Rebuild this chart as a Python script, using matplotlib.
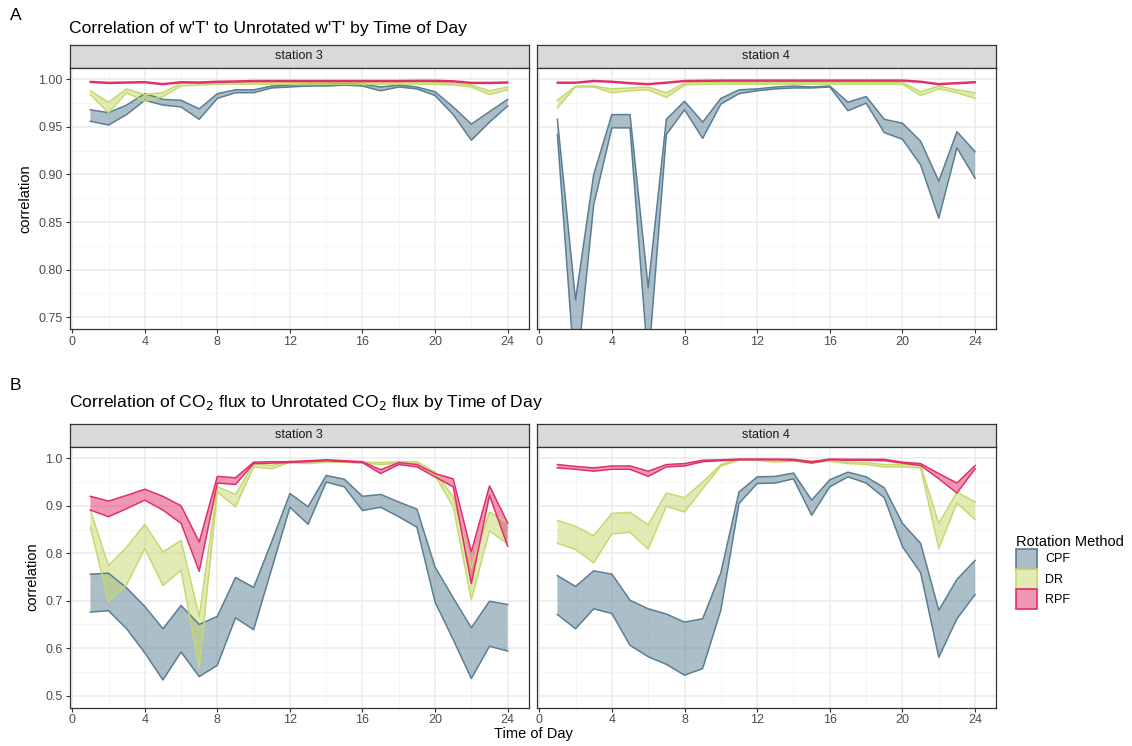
import matplotlib
matplotlib.use("Agg")
import matplotlib.pyplot as plt
from matplotlib.patches import Patch

plt.rcParams['font.family'] = ['Liberation Sans', 'DejaVu Sans']

hours = list(range(1, 25))
methods = ["CPF", "DR", "RPF"]
fills = {"CPF": "#5a7e93", "DR": "#c6d96e", "RPF": "#e0306c"}

# w'T' correlations, station 3 (lower / upper bounds of each ribbon)
wt_s3_cpf_lo = [0.956, 0.952, 0.963, 0.978, 0.973, 0.971, 0.958, 0.980, 0.986, 0.986, 0.991, 0.992,
                0.993, 0.993, 0.994, 0.993, 0.988, 0.992, 0.990, 0.983, 0.963, 0.936, 0.955, 0.972]
wt_s3_cpf_hi = [0.968, 0.965, 0.973, 0.985, 0.979, 0.978, 0.969, 0.985, 0.989, 0.989, 0.993, 0.994,
                0.995, 0.995, 0.996, 0.995, 0.992, 0.994, 0.992, 0.987, 0.971, 0.953, 0.966, 0.979]
wt_s3_dr_lo = [0.984, 0.965, 0.986, 0.977, 0.982, 0.993, 0.994, 0.995, 0.995, 0.995, 0.995, 0.995,
               0.995, 0.995, 0.995, 0.995, 0.995, 0.995, 0.995, 0.995, 0.994, 0.992, 0.984, 0.989]
wt_s3_dr_hi = [0.988, 0.976, 0.990, 0.984, 0.986, 0.996, 0.996, 0.996, 0.997, 0.997, 0.997, 0.997,
               0.997, 0.997, 0.997, 0.997, 0.997, 0.997, 0.997, 0.997, 0.996, 0.994, 0.988, 0.992]
wt_s3_rpf_lo = [0.9968, 0.9958, 0.9962, 0.9965, 0.9945, 0.9965, 0.9962, 0.9970, 0.9973, 0.9978, 0.9978, 0.9978,
                0.9978, 0.9978, 0.9978, 0.9978, 0.9978, 0.9978, 0.9980, 0.9980, 0.9975, 0.9958, 0.9958, 0.9962]
wt_s3_rpf_hi = [0.9978, 0.9968, 0.9972, 0.9975, 0.9955, 0.9975, 0.9972, 0.9980, 0.9983, 0.9988, 0.9988, 0.9988,
                0.9988, 0.9988, 0.9988, 0.9988, 0.9988, 0.9988, 0.9990, 0.9990, 0.9985, 0.9968, 0.9968, 0.9972]

# w'T' correlations, station 4
wt_s4_cpf_lo = [0.942, 0.680, 0.868, 0.949, 0.949, 0.700, 0.942, 0.968, 0.938, 0.974, 0.985, 0.988,
                0.990, 0.991, 0.991, 0.992, 0.967, 0.975, 0.944, 0.937, 0.910, 0.854, 0.928, 0.896]
wt_s4_cpf_hi = [0.958, 0.768, 0.900, 0.963, 0.963, 0.781, 0.958, 0.977, 0.955, 0.980, 0.989, 0.990,
                0.992, 0.993, 0.992, 0.993, 0.976, 0.982, 0.958, 0.954, 0.935, 0.893, 0.945, 0.924]
wt_s4_dr_lo = [0.970, 0.992, 0.992, 0.986, 0.988, 0.989, 0.981, 0.994, 0.995, 0.995, 0.995, 0.995,
               0.995, 0.995, 0.995, 0.995, 0.995, 0.995, 0.995, 0.995, 0.983, 0.990, 0.986, 0.980]
wt_s4_dr_hi = [0.978, 0.993, 0.993, 0.990, 0.991, 0.992, 0.986, 0.996, 0.997, 0.997, 0.997, 0.997,
               0.997, 0.997, 0.997, 0.997, 0.997, 0.997, 0.997, 0.997, 0.987, 0.993, 0.989, 0.986]
wt_s4_rpf_lo = [0.9960, 0.9960, 0.9978, 0.9970, 0.9955, 0.9945, 0.9960, 0.9978, 0.9980, 0.9982, 0.9982, 0.9982,
                0.9982, 0.9982, 0.9982, 0.9982, 0.9982, 0.9982, 0.9982, 0.9982, 0.9970, 0.9945, 0.9955, 0.9965]
wt_s4_rpf_hi = [0.9970, 0.9970, 0.9988, 0.9980, 0.9965, 0.9955, 0.9970, 0.9988, 0.9990, 0.9992, 0.9992, 0.9992,
                0.9992, 0.9992, 0.9992, 0.9992, 0.9992, 0.9992, 0.9992, 0.9992, 0.9980, 0.9955, 0.9965, 0.9975]

# CO2 flux correlations, station 3
co2_s3_cpf_lo = [0.676, 0.679, 0.641, 0.590, 0.533, 0.592, 0.540, 0.564, 0.664, 0.639, 0.768, 0.897,
                 0.861, 0.950, 0.940, 0.890, 0.897, 0.877, 0.855, 0.697, 0.618, 0.536, 0.604, 0.594]
co2_s3_cpf_hi = [0.756, 0.758, 0.727, 0.688, 0.641, 0.690, 0.650, 0.667, 0.749, 0.728, 0.825, 0.926,
                 0.898, 0.964, 0.956, 0.920, 0.924, 0.908, 0.893, 0.771, 0.706, 0.643, 0.699, 0.692]
co2_s3_dr_lo = [0.855, 0.699, 0.734, 0.810, 0.732, 0.764, 0.559, 0.929, 0.898, 0.982, 0.978, 0.992,
                0.989, 0.992, 0.992, 0.990, 0.987, 0.990, 0.989, 0.964, 0.898, 0.702, 0.847, 0.820]
co2_s3_dr_hi = [0.891, 0.774, 0.813, 0.861, 0.803, 0.827, 0.667, 0.940, 0.924, 0.989, 0.985, 0.994,
                0.993, 0.995, 0.995, 0.992, 0.991, 0.993, 0.993, 0.971, 0.919, 0.769, 0.887, 0.864]
co2_s3_rpf_lo = [0.891, 0.877, 0.894, 0.912, 0.891, 0.863, 0.762, 0.948, 0.945, 0.989, 0.990, 0.991,
                 0.993, 0.995, 0.993, 0.991, 0.968, 0.987, 0.982, 0.961, 0.940, 0.736, 0.922, 0.815]
co2_s3_rpf_hi = [0.920, 0.910, 0.922, 0.935, 0.920, 0.900, 0.824, 0.962, 0.959, 0.992, 0.993, 0.993,
                 0.995, 0.997, 0.995, 0.993, 0.976, 0.991, 0.987, 0.968, 0.957, 0.803, 0.942, 0.864]

# CO2 flux correlations, station 4
co2_s4_cpf_lo = [0.671, 0.641, 0.683, 0.673, 0.606, 0.582, 0.566, 0.543, 0.557, 0.680, 0.905, 0.947,
                 0.948, 0.957, 0.880, 0.940, 0.961, 0.948, 0.917, 0.814, 0.759, 0.581, 0.662, 0.713]
co2_s4_cpf_hi = [0.753, 0.730, 0.763, 0.756, 0.701, 0.683, 0.672, 0.655, 0.662, 0.759, 0.929, 0.961,
                 0.962, 0.969, 0.912, 0.955, 0.971, 0.961, 0.938, 0.863, 0.821, 0.680, 0.745, 0.785]
co2_s4_dr_lo = [0.821, 0.808, 0.780, 0.841, 0.844, 0.809, 0.899, 0.887, 0.936, 0.984, 0.996, 0.996,
                0.992, 0.994, 0.991, 0.994, 0.989, 0.987, 0.982, 0.982, 0.980, 0.810, 0.906, 0.871]
co2_s4_dr_hi = [0.869, 0.857, 0.837, 0.884, 0.886, 0.860, 0.927, 0.917, 0.950, 0.987, 0.998, 0.997,
                0.996, 0.997, 0.994, 0.996, 0.992, 0.991, 0.987, 0.987, 0.985, 0.863, 0.929, 0.908]
co2_s4_rpf_lo = [0.980, 0.977, 0.973, 0.977, 0.977, 0.962, 0.982, 0.984, 0.993, 0.995, 0.997, 0.997,
                 0.997, 0.996, 0.990, 0.997, 0.996, 0.996, 0.995, 0.990, 0.985, 0.957, 0.927, 0.978]
co2_s4_rpf_hi = [0.987, 0.983, 0.980, 0.984, 0.984, 0.973, 0.987, 0.989, 0.996, 0.997, 0.9985, 0.9985,
                 0.9985, 0.998, 0.993, 0.9985, 0.998, 0.998, 0.998, 0.992, 0.989, 0.968, 0.948, 0.985]

W, H = 1132, 746


def box(left, top, right, bottom):
    return [left / W, 1 - bottom / H, (right - left) / W, (bottom - top) / H]


def draw_panel(ax, bands, ylim, yticks, yminor, show_ylabels):
    ax.set_xlim(-0.15, 25.15)
    ax.set_ylim(*ylim)
    ax.set_xticks(range(0, 25, 4))
    ax.set_xticks(range(2, 25, 4), minor=True)
    ax.set_yticks(yticks)
    ax.set_yticks(yminor, minor=True)
    ax.grid(which='major', color='#ebebeb', linewidth=1.1)
    ax.grid(which='minor', color='#f4f4f4', linewidth=0.6)
    ax.set_axisbelow(True)
    for m in methods:
        lo, hi = bands[m]
        ax.fill_between(hours, lo, hi, facecolor=fills[m], alpha=0.5,
                        edgecolor='none', zorder=2)
        ax.plot(hours, lo, color=fills[m], lw=1.1, zorder=3)
        ax.plot(hours, hi, color=fills[m], lw=1.1, zorder=3)
    for s in ax.spines.values():
        s.set_color('#333333')
        s.set_linewidth(0.9)
    ax.tick_params(which='major', length=3, color='#333333', labelcolor='#4d4d4d',
                   labelsize=9, pad=2)
    ax.tick_params(which='minor', length=0)
    if not show_ylabels:
        ax.tick_params(axis='y', which='major', length=0, labelleft=False)


def draw_strip(left, top, right, bottom, label):
    sax = fig.add_axes(box(left, top, right, bottom))
    sax.set_facecolor('#d9d9d9')
    sax.set_xticks([])
    sax.set_yticks([])
    for s in sax.spines.values():
        s.set_color('#333333')
        s.set_linewidth(0.9)
    sax.text(0.5, 0.5, label, ha='center', va='center', fontsize=9, color='#1a1a1a',
             transform=sax.transAxes)


fig = plt.figure(figsize=(W / 100, H / 100), dpi=100)

cols = [(69.5, 528.5), (536.5, 996)]
stations = ["station 3", "station 4"]

wt_bands = [
    {"CPF": (wt_s3_cpf_lo, wt_s3_cpf_hi), "DR": (wt_s3_dr_lo, wt_s3_dr_hi), "RPF": (wt_s3_rpf_lo, wt_s3_rpf_hi)},
    {"CPF": (wt_s4_cpf_lo, wt_s4_cpf_hi), "DR": (wt_s4_dr_lo, wt_s4_dr_hi), "RPF": (wt_s4_rpf_lo, wt_s4_rpf_hi)},
]
co2_bands = [
    {"CPF": (co2_s3_cpf_lo, co2_s3_cpf_hi), "DR": (co2_s3_dr_lo, co2_s3_dr_hi), "RPF": (co2_s3_rpf_lo, co2_s3_rpf_hi)},
    {"CPF": (co2_s4_cpf_lo, co2_s4_cpf_hi), "DR": (co2_s4_dr_lo, co2_s4_dr_hi), "RPF": (co2_s4_rpf_lo, co2_s4_rpf_hi)},
]

wt_ticks = [0.75, 0.80, 0.85, 0.90, 0.95, 1.00]
wt_minor = [0.775, 0.825, 0.875, 0.925, 0.975]
co2_ticks = [0.5, 0.6, 0.7, 0.8, 0.9, 1.0]
co2_minor = [0.55, 0.65, 0.75, 0.85, 0.95]

# row A: w'T'
for i, (l, r) in enumerate(cols):
    draw_strip(l, 44.5, r, 67.5, stations[i])
    ax = fig.add_axes(box(l, 67.5, r, 329))
    draw_panel(ax, wt_bands[i], (0.7375, 1.0125), wt_ticks, wt_minor, i == 0)
    if i == 0:
        ax.yaxis.set_major_formatter(matplotlib.ticker.FormatStrFormatter('%.2f'))
        ax.set_ylabel('correlation', fontsize=10.5, color='black', labelpad=4)

# row B: CO2 flux
for i, (l, r) in enumerate(cols):
    draw_strip(l, 424, r, 446.5, stations[i])
    ax = fig.add_axes(box(l, 446.5, r, 707.5))
    draw_panel(ax, co2_bands[i], (0.475, 1.025), co2_ticks, co2_minor, i == 0)
    if i == 0:
        ax.yaxis.set_major_formatter(matplotlib.ticker.FormatStrFormatter('%.1f'))
        ax.set_ylabel('correlation', fontsize=10.5, color='black', labelpad=4)

fig.text(10 / W, 1 - 15 / H, 'A', fontsize=12.5, va='center', ha='left')
fig.text(10 / W, 1 - 385 / H, 'B', fontsize=12.5, va='center', ha='left')
fig.text(69 / W, 1 - 28 / H, "Correlation of w'T' to Unrotated w'T' by Time of Day",
         fontsize=12.6, va='center', ha='left')
fig.text(69 / W, 1 - 403 / H, "Correlation of CO$_2$ flux to Unrotated CO$_2$ flux by Time of Day",
         fontsize=12.6, va='center', ha='left')
fig.text(533 / W, 1 - 734 / H, 'Time of Day', fontsize=10.5, va='center', ha='center')

handles = []
for m in methods:
    p = Patch(facecolor=matplotlib.colors.to_rgba(fills[m], 0.5), edgecolor=fills[m], linewidth=1.2)
    handles.append(p)
leg = fig.legend(handles, methods, title='Rotation Method', loc='upper left',
                 bbox_to_anchor=(1008 / W, 1 - 527 / H), frameon=False, fontsize=9,
                 title_fontsize=10.5, handlelength=1.75, handleheight=2.1,
                 handletextpad=0.6, labelspacing=0.0, alignment='left',
                 borderaxespad=0.2)

fig.savefig('out.png', dpi=100)
